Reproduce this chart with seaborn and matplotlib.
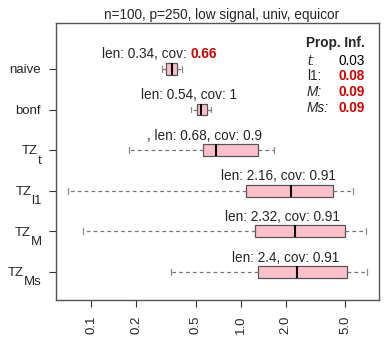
import numpy as np
import pandas as pd
import matplotlib
matplotlib.use("Agg")
import matplotlib.pyplot as plt
import matplotlib.transforms as mtransforms
import seaborn as sns

# -----------------------------
# Data (interval lengths, log scale)
# -----------------------------
methods = ["naive", "bonf", "TZ_t", "TZ_l1", "TZ_M", "TZ_Ms"]
label_main = ["naive", "bonf", "TZ", "TZ", "TZ", "TZ"]
label_sub = ["", "", "t", "l1", "M", "Ms"]
lo = [0.297, 0.467, 0.180, 0.070, 0.088, 0.344]
q1 = [0.319, 0.509, 0.559, 1.083, 1.25, 1.30]
med = [0.347, 0.547, 0.686, 2.166, 2.31, 2.40]
q3 = [0.374, 0.594, 1.315, 4.18, 5.0, 5.15]
hi = [0.404, 0.635, 1.683, 5.63, 6.88, 6.98]

len_text = ["0.34", "0.54", "0.68", "2.16", "2.32", "2.4"]
cov_text = ["0.66", "1", "0.9", "0.91", "0.91", "0.91"]
cov_red = [True, False, False, False, False, False]
prefix = ["", "", ", ", "", "", ""]

prop_names = ["t", "l1", "M", "Ms"]
prop_vals = ["0.03", "0.08", "0.09", "0.09"]
prop_red = [False, True, True, True]
prop_italic = [True, False, True, True]

xticks = [0.1, 0.2, 0.5, 1.0, 2.0, 5.0]

# five points per method so quartiles / extremes match the picture
rows = []
for m, a, b, c, d, e in zip(methods, lo, q1, med, q3, hi):
    for v in (a, b, c, d, e):
        rows.append({"method": m, "length": v})
df = pd.DataFrame(rows)

# -----------------------------
# Plot
# -----------------------------
sns.set_style("white")
plt.rcParams["font.family"] = ["Liberation Sans", "DejaVu Sans"]

RED = "#CC0000"
FS = 9.8

fig = plt.figure(figsize=(3.88, 3.47), dpi=100)
ax = fig.add_axes([56 / 388, 1 - 300 / 347, (379 - 56) / 388, (300 - 23) / 347])

sns.boxplot(data=df, x="length", y="method", order=methods, ax=ax,
            whis=np.inf, width=0.29, log_scale=True,
            color="#FFC0CB", saturation=1, linewidth=0.9, linecolor="#555555",
            whiskerprops=dict(linestyle=(0, (3, 2.5)), color="#777777"),
            capprops=dict(color="#888888"),
            medianprops=dict(color="black", linewidth=1.5))

ax.set_xlim(0.0583, 8.44)
ax.set_ylim(5.69, -1.13)
ax.set_xticks(xticks)
ax.set_xticklabels(["%.1f" % t for t in xticks], rotation=90, fontsize=9.5)
ax.minorticks_off()
ax.set_yticks(range(len(methods)))
ax.set_yticklabels([m if s == "" else "" for m, s in zip(label_main, label_sub)],
                   fontsize=9.5)
ax.tick_params(axis="both", direction="out", length=5, width=0.8,
               color="#333333", left=True, bottom=True, pad=6)
ax.set_xlabel("")
ax.set_ylabel("")
for s in ax.spines.values():
    s.set_color("#555555")
    s.set_linewidth(1.0)

fig.text(222 / 388, 1 - 19 / 347, "n=100, p=250, low signal, univ, equicor",
         ha="center", va="baseline", fontsize=FS)

# TZ labels with low subscripts (R plotmath look)
fig.canvas.draw()
renderer = fig.canvas.get_renderer()
blend = mtransforms.blended_transform_factory(ax.transAxes, ax.transData)
for i in range(len(methods)):
    if label_sub[i] == "":
        continue
    tsub = ax.text(0, i, label_sub[i], fontsize=9.5, ha="right", va="baseline",
                   transform=mtransforms.offset_copy(blend, fig, x=-14, y=-13.5,
                                                     units="dots"))
    w = tsub.get_window_extent(renderer).width
    ax.text(0, i, label_main[i], fontsize=9.5, ha="right", va="baseline",
            transform=mtransforms.offset_copy(blend, fig, x=-14 - w, y=-4.3,
                                              units="dots"))

# length / coverage labels above each box
for i in range(len(methods)):
    base = prefix[i] + "len: " + len_text[i] + ", cov: "
    if cov_red[i]:
        ax.annotate(base.rstrip(), xy=(med[i], i), xytext=(15, 10.7),
                    textcoords="offset pixels", ha="right", va="baseline",
                    fontsize=FS)
        ax.annotate(cov_text[i], xy=(med[i], i), xytext=(19, 10.7),
                    textcoords="offset pixels", ha="left", va="baseline",
                    fontsize=FS, color=RED, fontweight="bold")
    else:
        ax.annotate(base + cov_text[i], xy=(med[i], i), xytext=(-12, 10.3),
                    textcoords="offset pixels", ha="center", va="baseline",
                    fontsize=FS)

# proportion inferred legend
fig.text(365 / 388, 1 - 46.7 / 347, "Prop. Inf.", ha="right", va="baseline",
         fontsize=FS, fontweight="bold")
prop_y = [65, 80.5, 96, 111.7]
for j in range(len(prop_names)):
    y = 1 - prop_y[j] / 347
    fig.text(307 / 388, y, prop_names[j] + ":", ha="left", va="baseline",
             fontsize=FS, style="italic" if prop_italic[j] else "normal")
    fig.text(365 / 388, y, prop_vals[j], ha="right", va="baseline",
             fontsize=FS,
             color=RED if prop_red[j] else "black",
             fontweight="bold" if prop_red[j] else "normal")

plt.savefig("out.png", dpi=100)
plt.close()
